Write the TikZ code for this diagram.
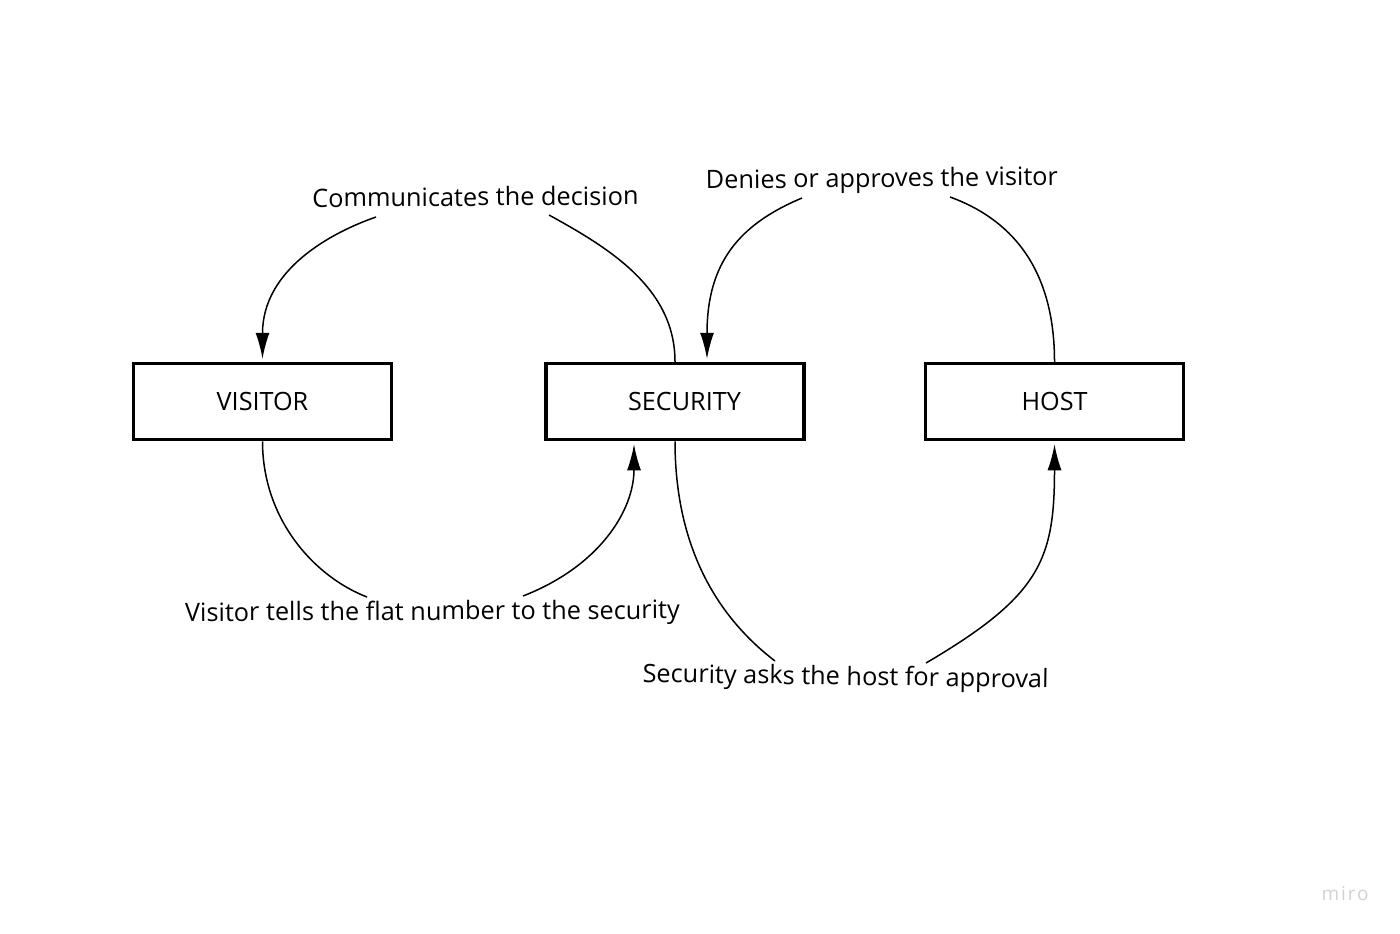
\documentclass[tikz,border=0pt]{standalone}
\usepackage{fontspec}
\setmainfont{Open Sans}
\newfontfamily\wmfont[LetterSpace=10]{Open Sans}
\usetikzlibrary{arrows.meta,calc}
\begin{document}
\begin{tikzpicture}[x=0.5pt,y=-0.5pt,
  box/.style={draw=black,line width=1.75pt,minimum width=129pt,minimum height=38pt,inner sep=0pt,font=\fontsize{12.6}{15}\selectfont},
  lbl/.style={inner sep=0pt,anchor=base,font=\fontsize{12.65}{15}\selectfont},
  conn/.style={line width=0.75pt},
  arr/.style={conn,-{Latex[length=13pt,width=7pt]}}]
\useasboundingbox (0,0) rectangle (1400,933);
\fill[white] (0,0) rectangle (1400,933);
\node[box] (vis) at (262.5,401.5) {VISITOR};
\node[box] (sec) at (675,401.5) {\hspace*{9.5pt}SECURITY};
\node[box] (host) at (1054.5,401.5) {HOST};
\node[lbl,rotate=0.4] (l1) at (475.5,206) {Communicates the decision};
\node[lbl,rotate=0.6] (l2) at (882,187) {Denies or approves the visitor};
\node[lbl,rotate=0.3] (l3) at (432.5,620) {Visitor tells the flat number to the security};
\node[lbl,rotate=-0.8] (l4) at (845.5,685) {Security asks the host for approval};
\node[text=gray!35,anchor=base,inner sep=0pt,font=\wmfont\fontsize{9.5}{11}\selectfont] (wm) at (1345,900) {miro};
\coordinate (c1a) at (549,215);
\coordinate (c1b) at (376,217);
\coordinate (c2a) at (950,197);
\coordinate (c2b) at (802,198);
\coordinate (c3a) at (367,597);
\coordinate (c3b) at (523,596);
\coordinate (c4a) at (775,661);
\coordinate (c4b) at (926,663);
\draw[conn] (sec.north) .. controls (675,288) and (609,248) .. (c1a);
\draw[arr] (c1b) .. controls (330,233) and (262.5,270) .. ($(vis.north)+(0,-3)$);
\draw[conn] (host.north) .. controls (1054.5,265) and (1008,218) .. (c2a);
\draw[arr] (c2b) .. controls (740,224) and (707,262) .. ($(sec.north)+(32,-3)$);
\draw[conn] (vis.south) .. controls (262.5,520) and (315,577) .. (c3a);
\draw[arr] (c3b) .. controls (600,566) and (634,510) .. ($(sec.south)+(-41,3)$);
\draw[conn] (sec.south) .. controls (675,560) and (728,625) .. (c4a);
\draw[arr] (c4b) .. controls (1040,596) and (1054.5,560) .. ($(host.south)+(0,3)$);
\end{tikzpicture}
\end{document}
